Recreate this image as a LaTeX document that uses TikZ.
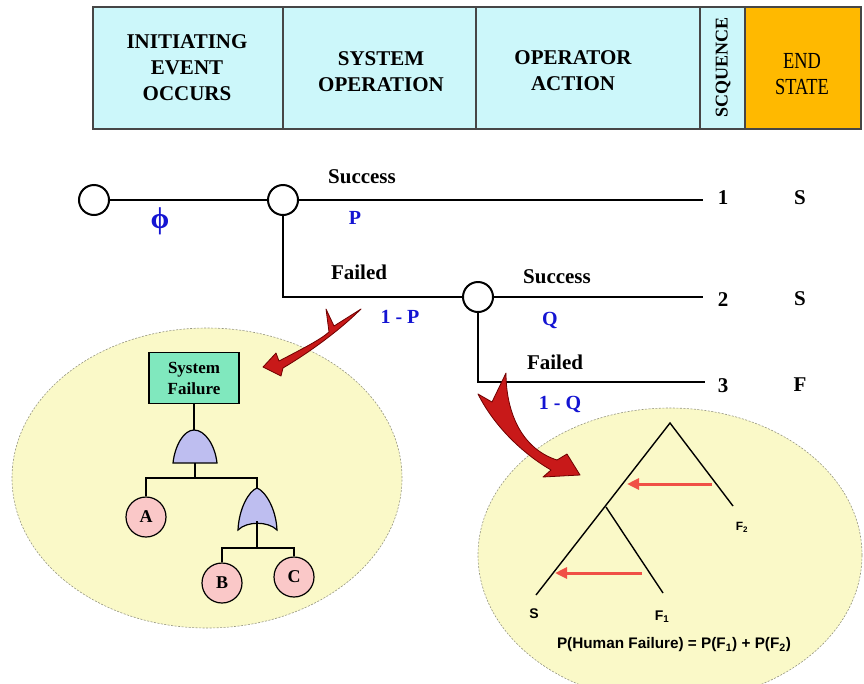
\documentclass[tikz,border=0pt]{standalone}
\usepackage{fontspec}
\setmainfont{Liberation Serif}
\newfontfamily\arialfont{Liberation Sans}
\usetikzlibrary{arrows.meta}

\definecolor{hdrfill}{RGB}{204,247,250}
\definecolor{hdrline}{RGB}{70,70,70}
\definecolor{endfill}{RGB}{255,185,0}
\definecolor{ellfill}{RGB}{250,249,200}
\definecolor{ellline}{RGB}{150,150,130}
\definecolor{probblue}{RGB}{20,20,210}
\definecolor{boxgreen}{RGB}{128,232,190}
\definecolor{gatefill}{RGB}{190,190,240}
\definecolor{evpink}{RGB}{250,200,200}
\definecolor{swoosh}{RGB}{200,25,25}
\definecolor{swooshdark}{RGB}{110,0,0}
\definecolor{hraarrow}{RGB}{240,80,70}

\begin{document}
\begin{tikzpicture}[x=1pt,y=-1pt,
  hdrtext/.style={font=\fontsize{21}{26}\selectfont\bfseries, align=center},
  lbl/.style={font=\fontsize{21}{25}\selectfont\bfseries},
  prob/.style={font=\fontsize{20}{24}\selectfont\bfseries, text=probblue},
  evc/.style={circle, draw, line width=2pt, fill=white, minimum size=30pt, inner sep=0pt},
  tree/.style={line width=2pt},
  ell/.style={draw=ellline, fill=ellfill, dashed, dash pattern=on 2pt off 1.5pt, line width=0.6pt},
  ft/.style={line width=1.2pt},
  gate/.style={draw, line width=1.2pt, fill=gatefill},
  basic/.style={circle, draw, line width=1.2pt, fill=evpink, minimum size=40pt, inner sep=0pt,
    font=\fontsize{18}{20}\selectfont\bfseries},
  hra/.style={line width=1.4pt},
  hrarrow/.style={line width=3pt, draw=hraarrow, -{Triangle[length=12pt,width=11pt]}},
  hlbl/.style={font=\arialfont\bfseries\fontsize{12}{14}\selectfont},
  block/.style={fill=swoosh, draw=swooshdark, line width=0.8pt, line join=round}
]
\useasboundingbox (0,0) rectangle (864,683);

% ---------- column header ----------
\fill[hdrfill] (93,7) rectangle (745,129);
\fill[endfill] (745,7) rectangle (861,129);
\draw[hdrline, line width=1.3pt] (93,7) rectangle (861,129);
\foreach \xx in {283,476,700,745}
  \draw[hdrline, line width=1.3pt] (\xx,7) -- (\xx,129);

\node[hdrtext] (hinit) at (187,68) {INITIATING\\EVENT\\OCCURS};
\node[hdrtext] (hsys)  at (381,72) {SYSTEM\\OPERATION};
\node[hdrtext] (hop)   at (573,71) {OPERATOR\\ACTION};
\node[font=\fontsize{18}{20}\selectfont\bfseries, rotate=90] (hseq) at (723,67) {SCQUENCE};
\node[font=\fontsize{23}{26}\selectfont, align=center] (hend) at (802,74)
  {\scalebox{0.8}[1]{END}\\\scalebox{0.8}[1]{STATE}};

% ---------- event tree ----------
\node[evc] (e0) at (94,200) {};
\node[evc] (e1) at (283,200) {};
\node[evc] (e2) at (478,297) {};
\coordinate (end1) at (703,200);
\coordinate (end2) at (703,297);
\coordinate (end3) at (705,382);
\coordinate (k1) at (283,297);
\coordinate (k2) at (478,382);

\draw[tree] (e0) -- (e1);
\draw[tree] (e1) -- (end1);
\draw[tree] (e1) -- (k1) -- (e2);
\draw[tree] (e2) -- (end2);
\draw[tree] (e2) -- (k2) -- (end3);

\node[lbl] (s1) at (362,177) {Success};
\node[lbl] (f1) at (359,272) {Failed};
\node[lbl] (s2) at (557,277) {Success};
\node[lbl] (f2) at (555,362) {Failed};

\node[prob, font=\fontsize{30}{32}\selectfont\bfseries] (phi) at (160,221) {ϕ};
\node[prob] (pP)  at (355,218) {P};
\node[prob] (pnP) at (400,317) {1 - P};
\node[prob] (pQ)  at (550,320) {Q};
\node[prob] (pnQ) at (560,404) {1 - Q};

\node[lbl] (n1) at (723,198) {1};
\node[lbl] (n2) at (723,300) {2};
\node[lbl] (n3) at (723,386) {3};
\node[lbl] (o1) at (800,198) {S};
\node[lbl] (o2) at (800,299) {S};
\node[lbl] (o3) at (800,385) {F};

% ---------- fault tree for the system branch ----------
\draw[ell] (207,478) ellipse [x radius=195pt, y radius=150pt];

\node[draw, line width=1.2pt, fill=boxgreen, minimum width=90pt, minimum height=51pt,
  align=center, font=\fontsize{17}{21}\selectfont\bfseries] (sf) at (194,378) {System\\Failure};

% AND gate
\coordinate (andtop) at (194,430);
\coordinate (andbot) at (195,463);
\draw[gate] (173,463) .. controls (175,445) and (184,430) .. (andtop)
  .. controls (205,430) and (215,445) .. (217,463) -- cycle;
% OR gate
\coordinate (ortop) at (257,488);
\coordinate (orbot) at (257,521);
\draw[gate] (238,530) .. controls (239,508) and (249,491) .. (ortop)
  .. controls (265,491) and (276,508) .. (277,530)
  .. controls (268,521) and (247,521) .. cycle;

\node[basic] (A) at (146,517) {A};
\node[basic] (B) at (222,583) {B};
\node[basic] (C) at (294,577) {C};
\coordinate (j1) at (195,478);
\coordinate (j2) at (257,548);

\draw[ft] (sf.south) -- (andtop);
\draw[ft] (andbot) -- (j1);
\draw[ft] (A.north) |- (j1) -| (ortop);
\draw[ft] (orbot) -- (j2);
\draw[ft] (B.north) |- (j2) -| (C.north);

% ---------- human reliability tree for the operator branch ----------
\begin{scope}
  \clip (0,0) rectangle (864,683);
  \draw[ell] (670,555) ellipse [x radius=192pt, y radius=147pt];
\end{scope}

\coordinate (apex) at (670,423);
\coordinate (brF2) at (733,506);
\coordinate (brS)  at (536,595);
\coordinate (mid)  at (606,507);
\coordinate (brF1) at (663,593);
\draw[hra] (brS) -- (apex) -- (brF2);
\draw[hra] (mid) -- (brF1);

\coordinate (ra1s) at (712,484);
\coordinate (ra1e) at (627,484);
\coordinate (ra2s) at (642,573);
\coordinate (ra2e) at (555,573);
\draw[hrarrow] (ra1s) -- (ra1e);
\draw[hrarrow] (ra2s) -- (ra2e);

\node[hlbl, font=\arialfont\bfseries\fontsize{12}{14}\selectfont] (lF2) at (742,527) {F\textsubscript{2}};
\node[hlbl, font=\arialfont\bfseries\fontsize{14}{16}\selectfont] (lS) at (534,614) {S};
\node[hlbl, font=\arialfont\bfseries\fontsize{14}{16}\selectfont] (lF1) at (662,617) {F\textsubscript{1}};
\node[hlbl, font=\arialfont\bfseries\fontsize{15.3}{17}\selectfont] (form) at (674,645)
  {P(Human Failure) = P(F\textsubscript{1}) + P(F\textsubscript{2})};

% ---------- curved block arrows ----------
\draw[block] (263,367) -- (276,353) -- (279,361)
  .. controls (300,350) and (320,340) .. (329,332)
  -- (326,309) -- (334,326) -- (361,309)
  .. controls (340,330) and (310,352) .. (283,368)
  -- (281,376) -- cycle;

\draw[block] (580,475) -- (543,477) -- (551,470)
  .. controls (525,455) and (495,428) .. (478,394)
  -- (492,402) -- (506,373)
  .. controls (506,410) and (520,448) .. (557,460)
  -- (567,454) -- cycle;
\end{tikzpicture}
\end{document}
